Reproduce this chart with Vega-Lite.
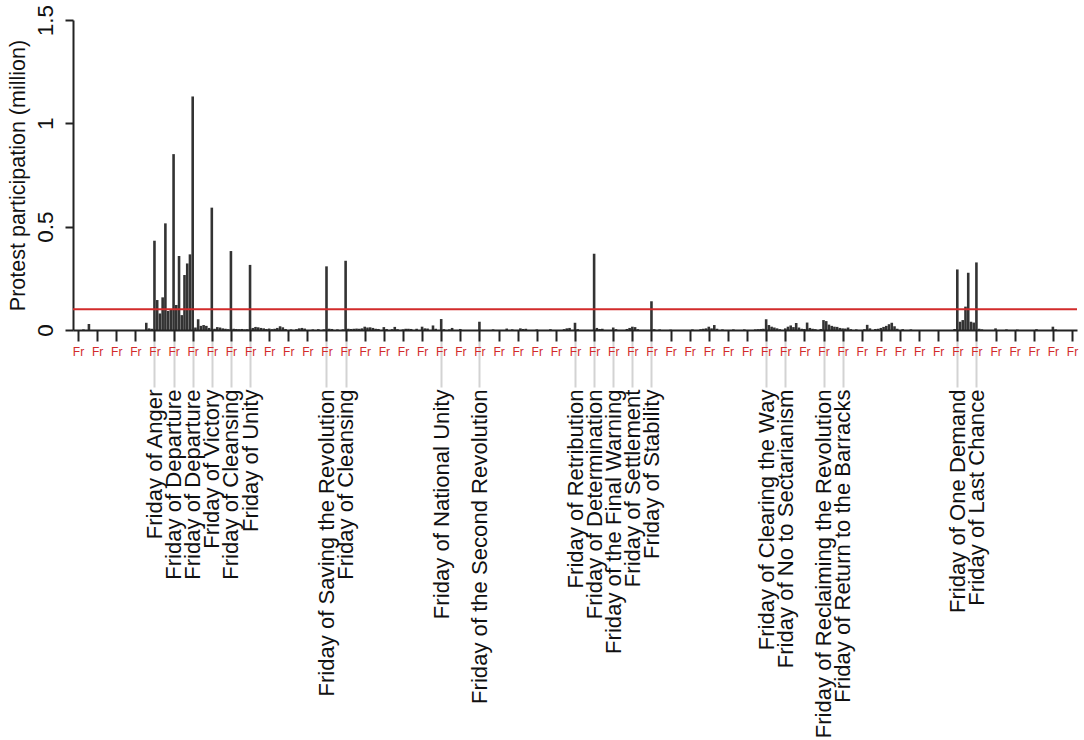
{
  "$schema": "https://vega.github.io/schema/vega-lite/v6.json",
  "width": 1004,
  "height": 310,
  "autosize": {"type": "none"},
  "padding": {"left": 73, "top": 20, "right": 7, "bottom": 410},
  "background": "white",
  "config": {"view": {"stroke": null}, "font": "Liberation Sans", "axis": {"grid": false}},
  "datasets": {
    "daily": [
      {"day": 2, "p": 0.003}, {"day": 4, "p": 0.029}, {"day": 25, "p": 0.035}, {"day": 26, "p": 0.008}, {"day": 27, "p": 0.006},
      {"day": 28, "p": 0.432}, {"day": 29, "p": 0.145}, {"day": 30, "p": 0.08}, {"day": 31, "p": 0.158}, {"day": 32, "p": 0.516},
      {"day": 33, "p": 0.092}, {"day": 34, "p": 0.1}, {"day": 35, "p": 0.851}, {"day": 36, "p": 0.121}, {"day": 37, "p": 0.358},
      {"day": 38, "p": 0.072}, {"day": 39, "p": 0.266}, {"day": 40, "p": 0.322}, {"day": 41, "p": 0.366}, {"day": 42, "p": 1.13},
      {"day": 43, "p": 0.012}, {"day": 44, "p": 0.052}, {"day": 45, "p": 0.02}, {"day": 46, "p": 0.024}, {"day": 47, "p": 0.02},
      {"day": 48, "p": 0.01}, {"day": 49, "p": 0.592}, {"day": 50, "p": 0.006}, {"day": 51, "p": 0.014}, {"day": 52, "p": 0.012},
      {"day": 53, "p": 0.008}, {"day": 54, "p": 0.006}, {"day": 55, "p": 0.004}, {"day": 56, "p": 0.382}, {"day": 57, "p": 0.006},
      {"day": 58, "p": 0.005}, {"day": 59, "p": 0.004}, {"day": 60, "p": 0.005}, {"day": 61, "p": 0.003}, {"day": 62, "p": 0.004},
      {"day": 63, "p": 0.315}, {"day": 64, "p": 0.01}, {"day": 65, "p": 0.015}, {"day": 66, "p": 0.013}, {"day": 67, "p": 0.01},
      {"day": 68, "p": 0.008}, {"day": 69, "p": 0.005}, {"day": 70, "p": 0.007}, {"day": 71, "p": 0.004}, {"day": 72, "p": 0.006},
      {"day": 73, "p": 0.01}, {"day": 74, "p": 0.018}, {"day": 75, "p": 0.013}, {"day": 76, "p": 0.005}, {"day": 78, "p": 0.003},
      {"day": 80, "p": 0.004}, {"day": 81, "p": 0.008}, {"day": 82, "p": 0.01}, {"day": 83, "p": 0.007}, {"day": 86, "p": 0.003},
      {"day": 88, "p": 0.004}, {"day": 90, "p": 0.003}, {"day": 91, "p": 0.308}, {"day": 92, "p": 0.006}, {"day": 93, "p": 0.005},
      {"day": 95, "p": 0.003}, {"day": 97, "p": 0.003}, {"day": 98, "p": 0.335}, {"day": 99, "p": 0.006}, {"day": 100, "p": 0.005},
      {"day": 101, "p": 0.006}, {"day": 102, "p": 0.007}, {"day": 103, "p": 0.006}, {"day": 104, "p": 0.008}, {"day": 105, "p": 0.016},
      {"day": 106, "p": 0.012}, {"day": 107, "p": 0.013}, {"day": 108, "p": 0.01}, {"day": 109, "p": 0.006}, {"day": 110, "p": 0.005},
      {"day": 112, "p": 0.014}, {"day": 113, "p": 0.005}, {"day": 115, "p": 0.004}, {"day": 116, "p": 0.015}, {"day": 117, "p": 0.004},
      {"day": 119, "p": 0.003}, {"day": 120, "p": 0.006}, {"day": 121, "p": 0.006}, {"day": 122, "p": 0.005}, {"day": 124, "p": 0.006},
      {"day": 126, "p": 0.016}, {"day": 127, "p": 0.008}, {"day": 128, "p": 0.007}, {"day": 130, "p": 0.022}, {"day": 131, "p": 0.006},
      {"day": 133, "p": 0.053}, {"day": 134, "p": 0.004}, {"day": 136, "p": 0.003}, {"day": 137, "p": 0.01}, {"day": 140, "p": 0.005},
      {"day": 147, "p": 0.04}, {"day": 152, "p": 0.003}, {"day": 157, "p": 0.007}, {"day": 159, "p": 0.003}, {"day": 162, "p": 0.008},
      {"day": 163, "p": 0.005}, {"day": 164, "p": 0.006}, {"day": 168, "p": 0.003}, {"day": 173, "p": 0.004}, {"day": 178, "p": 0.004},
      {"day": 179, "p": 0.008}, {"day": 180, "p": 0.01}, {"day": 182, "p": 0.035}, {"day": 183, "p": 0.004}, {"day": 189, "p": 0.369},
      {"day": 190, "p": 0.01}, {"day": 191, "p": 0.005}, {"day": 192, "p": 0.006}, {"day": 196, "p": 0.012}, {"day": 197, "p": 0.004},
      {"day": 201, "p": 0.005}, {"day": 202, "p": 0.01}, {"day": 203, "p": 0.016}, {"day": 204, "p": 0.014}, {"day": 205, "p": 0.004},
      {"day": 210, "p": 0.139}, {"day": 211, "p": 0.004}, {"day": 213, "p": 0.003}, {"day": 217, "p": 0.002}, {"day": 225, "p": 0.003},
      {"day": 228, "p": 0.004}, {"day": 229, "p": 0.006}, {"day": 230, "p": 0.008}, {"day": 231, "p": 0.016}, {"day": 232, "p": 0.008},
      {"day": 233, "p": 0.024}, {"day": 234, "p": 0.006}, {"day": 236, "p": 0.003}, {"day": 240, "p": 0.003}, {"day": 244, "p": 0.003},
      {"day": 248, "p": 0.003}, {"day": 249, "p": 0.004}, {"day": 250, "p": 0.005}, {"day": 251, "p": 0.006}, {"day": 252, "p": 0.052},
      {"day": 253, "p": 0.024}, {"day": 254, "p": 0.016}, {"day": 255, "p": 0.012}, {"day": 256, "p": 0.008}, {"day": 257, "p": 0.004},
      {"day": 259, "p": 0.008}, {"day": 260, "p": 0.016}, {"day": 261, "p": 0.022}, {"day": 262, "p": 0.014}, {"day": 263, "p": 0.034},
      {"day": 264, "p": 0.012}, {"day": 265, "p": 0.006}, {"day": 266, "p": 0.005}, {"day": 267, "p": 0.036}, {"day": 268, "p": 0.01},
      {"day": 269, "p": 0.006}, {"day": 270, "p": 0.004}, {"day": 272, "p": 0.005}, {"day": 273, "p": 0.048}, {"day": 274, "p": 0.043},
      {"day": 275, "p": 0.026}, {"day": 276, "p": 0.02}, {"day": 277, "p": 0.016}, {"day": 278, "p": 0.015}, {"day": 279, "p": 0.01},
      {"day": 280, "p": 0.008}, {"day": 281, "p": 0.007}, {"day": 282, "p": 0.012}, {"day": 283, "p": 0.004}, {"day": 285, "p": 0.003},
      {"day": 288, "p": 0.004}, {"day": 289, "p": 0.025}, {"day": 290, "p": 0.008}, {"day": 292, "p": 0.005}, {"day": 293, "p": 0.006},
      {"day": 294, "p": 0.01}, {"day": 295, "p": 0.015}, {"day": 296, "p": 0.02}, {"day": 297, "p": 0.028}, {"day": 298, "p": 0.035},
      {"day": 299, "p": 0.018}, {"day": 300, "p": 0.006}, {"day": 302, "p": 0.004}, {"day": 305, "p": 0.003}, {"day": 321, "p": 0.005},
      {"day": 322, "p": 0.293}, {"day": 323, "p": 0.04}, {"day": 324, "p": 0.048}, {"day": 325, "p": 0.113}, {"day": 326, "p": 0.277},
      {"day": 327, "p": 0.04}, {"day": 328, "p": 0.036}, {"day": 329, "p": 0.327}, {"day": 330, "p": 0.006}, {"day": 331, "p": 0.003},
      {"day": 336, "p": 0.008}, {"day": 340, "p": 0.003}, {"day": 344, "p": 0.002}, {"day": 351, "p": 0.004}, {"day": 357, "p": 0.016},
      {"day": 358, "p": 0.003}
    ],
    "named": [
      {"day": 28, "name": "Friday of Anger"}, {"day": 35, "name": "Friday of Departure"}, {"day": 42, "name": "Friday of Departure"},
      {"day": 49, "name": "Friday of Victory"}, {"day": 56, "name": "Friday of Cleansing"}, {"day": 63, "name": "Friday of Unity"},
      {"day": 91, "name": "Friday of Saving the Revolution"}, {"day": 98, "name": "Friday of Cleansing"},
      {"day": 133, "name": "Friday of National Unity"}, {"day": 147, "name": "Friday of the Second Revolution"},
      {"day": 182, "name": "Friday of Retribution"}, {"day": 189, "name": "Friday of Determination"},
      {"day": 196, "name": "Friday of the Final Warning"}, {"day": 203, "name": "Friday of Settlement"},
      {"day": 210, "name": "Friday of Stability"}, {"day": 252, "name": "Friday of Clearing the Way"},
      {"day": 259, "name": "Friday of No to Sectarianism"}, {"day": 273, "name": "Friday of Reclaiming the Revolution"},
      {"day": 280, "name": "Friday of Return to the Barracks"}, {"day": 322, "name": "Friday of One Demand"},
      {"day": 329, "name": "Friday of Last Chance"}
    ],
    "threshold": [{"level": 0.1}]
  },
  "resolve": {"axis": {"x": "independent"}},
  "layer": [
    {
      "data": {"name": "daily"},
      "mark": {"type": "bar", "width": 2.6, "color": "#333333"},
      "encoding": {
        "x": {
          "field": "day", "type": "quantitative",
          "scale": {"domain": [0, 364], "nice": false, "zero": false},
          "axis": {
            "orient": "bottom", "title": null,
            "values": [0, 7, 14, 21, 28, 35, 42, 49, 56, 63, 70, 77, 84, 91, 98, 105, 112, 119, 126, 133, 140, 147, 154, 161, 168, 175, 182, 189, 196, 203, 210, 217, 224, 231, 238, 245, 252, 259, 266, 273, 280, 287, 294, 301, 308, 315, 322, 329, 336, 343, 350, 357, 364],
            "labelExpr": "'Fr'",
            "labelColor": "#d22b2b", "labelFontSize": 12, "labelPadding": 5,
            "tickSize": 11, "tickWidth": 2, "tickColor": "#222222",
            "domainColor": "#222222", "domainWidth": 2,
            "labelFlush": false, "labelBound": false, "labelOverlap": false, "zindex": 2
          }
        },
        "y": {
          "field": "p", "type": "quantitative",
          "scale": {"domain": [0, 1.5], "nice": false},
          "axis": {
            "orient": "left",
            "title": "Protest participation (million)",
            "values": [0, 0.5, 1, 1.5], "format": "~g",
            "labelAngle": 270, "labelAlign": "center", "labelBaseline": "alphabetic",
            "labelFontSize": 22.5, "labelPadding": 13, "labelColor": "#111111", "labelFlush": false,
            "tickSize": 8, "tickWidth": 2, "tickColor": "#222222",
            "domainColor": "#222222", "domainWidth": 2,
            "titleFontSize": 21.5, "titleFontWeight": "normal", "titleColor": "#111111", "titlePadding": 5
          }
        }
      }
    },
    {
      "data": {"name": "named"},
      "mark": {"type": "point", "opacity": 0},
      "encoding": {
        "x": {
          "field": "day", "type": "quantitative",
          "scale": {"domain": [0, 364], "nice": false, "zero": false},
          "axis": {
            "orient": "bottom", "title": null, "domain": false,
            "values": [28, 35, 42, 49, 56, 63, 91, 98, 133, 147, 182, 189, 196, 203, 210, 252, 259, 273, 280, 322, 329],
            "labelExpr": "{'28':'Friday of Anger','35':'Friday of Departure','42':'Friday of Departure','49':'Friday of Victory','56':'Friday of Cleansing','63':'Friday of Unity','91':'Friday of Saving the Revolution','98':'Friday of Cleansing','133':'Friday of National Unity','147':'Friday of the Second Revolution','182':'Friday of Retribution','189':'Friday of Determination','196':'Friday of the Final Warning','203':'Friday of Settlement','210':'Friday of Stability','252':'Friday of Clearing the Way','259':'Friday of No to Sectarianism','273':'Friday of Reclaiming the Revolution','280':'Friday of Return to the Barracks','322':'Friday of One Demand','329':'Friday of Last Chance'}[datum.value]",
            "tickColor": "#d3d3d3", "tickWidth": 2, "tickSize": 57,
            "labelAngle": 270, "labelAlign": "right", "labelBaseline": "middle",
            "labelFontSize": 22.1, "labelColor": "#111111", "labelPadding": 2, "labelLimit": 0,
            "labelFlush": false, "labelBound": false, "labelOverlap": false, "zindex": 0
          }
        },
        "y": {"datum": 0, "type": "quantitative"}
      }
    },
    {
      "data": {"name": "threshold"},
      "mark": {"type": "rule", "color": "#d22b2b", "strokeWidth": 2},
      "encoding": {"y": {"field": "level", "type": "quantitative"}}
    }
  ]
}
